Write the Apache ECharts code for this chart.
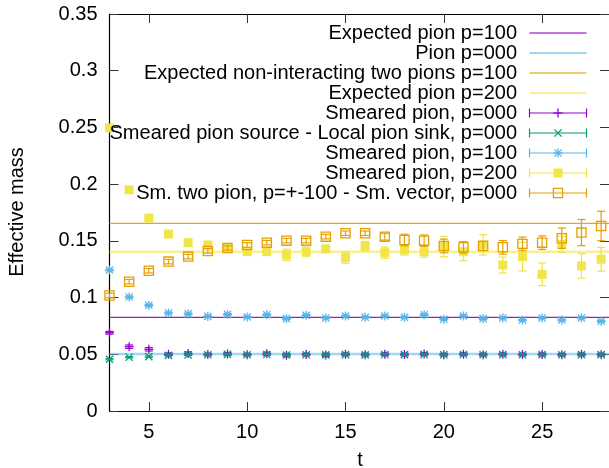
<!DOCTYPE html>
<html>
<head>
<meta charset="utf-8">
<script src="https://cdn.jsdelivr.net/npm/echarts@6/dist/echarts.min.js"></script>
<style>html,body{margin:0;padding:0;background:#fff}#c{width:609px;height:468px}</style>
</head>
<body>
<div id="c"></div>
<script>
const tValues = [3,4,5,6,7,8,9,10,11,12,13,14,15,16,17,18,19,20,21,22,23,24,25,26,27,28];
const xTicks = [5,10,15,20,25];

const expectedNames = ['Expected pion p=100','Pion p=000','Expected non-interacting two pions p=100','Expected pion p=200'];
const expectedValues = [0.0826, 0.0503, 0.1655, 0.1405];

const pointNames = ['Smeared pion, p=000','Smeared pion source - Local pion sink, p=000','Smeared pion, p=100','Smeared pion, p=200','Sm. two pion, p=+-100 - Sm. vector, p=000'];

const smP000 = [0.0690,0.0567,0.0544,0.0500,0.0506,0.0498,0.0503,0.0497,0.0504,0.0492,0.0498,0.0494,0.0500,0.0497,0.0501,0.0498,0.0502,0.0497,0.0501,0.0497,0.0500,0.0498,0.0499,0.0496,0.0499,0.0497];
const smP000Err = [0.0012,0.0015,0.0015,0.0012,0.0015,0.0012,0.0012,0.0012,0.0015,0.0015,0.0012,0.0015,0.0012,0.0012,0.0012,0.0012,0.0012,0.0012,0.0012,0.0012,0.0012,0.0012,0.0012,0.0012,0.0012,0.0012];

const smLocP000 = [0.0456,0.0474,0.0479,0.0490,0.0495,0.0496,0.0499,0.0496,0.0498,0.0494,0.0496,0.0495,0.0497,0.0495,0.0498,0.0497,0.0499,0.0496,0.0498,0.0496,0.0497,0.0496,0.0497,0.0496,0.0497,0.0497];
const smLocP000Err = [0.0005,0.0005,0.0005,0.0005,0.0005,0.0005,0.0005,0.0005,0.0005,0.0005,0.0005,0.0005,0.0005,0.0005,0.0005,0.0005,0.0005,0.0005,0.0005,0.0005,0.0005,0.0005,0.0005,0.0005,0.0005,0.0005];

const smP100 = [0.1243,0.1005,0.0932,0.0864,0.0856,0.0834,0.0852,0.0829,0.0849,0.0814,0.0844,0.0820,0.0838,0.0826,0.0838,0.0826,0.0849,0.0809,0.0838,0.0814,0.0820,0.0802,0.0820,0.0802,0.0820,0.0791];
const smP100Err = [0.0008,0.0008,0.0008,0.0008,0.0008,0.0008,0.0008,0.0008,0.0008,0.0008,0.0008,0.0008,0.0008,0.0008,0.0008,0.0008,0.0008,0.0008,0.0008,0.0008,0.0008,0.0008,0.0008,0.0008,0.0008,0.0008];

const smP200 = [0.2496,0.1950,0.1700,0.1560,0.1484,0.1464,0.1440,0.1405,0.1405,0.1376,0.1405,0.1429,0.1352,0.1455,0.1396,0.1420,0.1405,0.1450,0.1405,0.1464,0.1287,0.1361,0.1205,0.1470,0.1279,0.1338];
const smP200Err = [0.002,0.002,0.002,0.002,0.002,0.003,0.003,0.003,0.003,0.005,0.004,0.003,0.005,0.004,0.005,0.0045,0.005,0.009,0.008,0.009,0.007,0.0126,0.010,0.007,0.0108,0.0105];

const twoPion = [0.1018,0.1140,0.1237,0.1317,0.1361,0.1411,0.1437,0.1464,0.1484,0.1502,0.1502,0.1537,0.1567,0.1567,0.1537,0.1508,0.1502,0.1455,0.1443,0.1455,0.1443,0.1473,0.1484,0.1523,0.1573,0.1631];
const twoPionErr = [0.002,0.002,0.002,0.002,0.002,0.002,0.002,0.002,0.002,0.002,0.002,0.002,0.002,0.002,0.003,0.005,0.005,0.006,0.005,0.004,0.006,0.006,0.006,0.009,0.0115,0.013];

const X_MIN = 3, X_MAX = 28.4;
const COL = {purple:'#9400d3', green:'#009e73', blue:'#56b4e9', orange:'#e69f00', yellow:'#f0e442'};
const lineColors = [COL.purple, COL.blue, COL.orange, COL.yellow];
const pointColors = [COL.purple, COL.green, COL.blue, COL.yellow, COL.orange];
const pointKinds = ['plus','cross','star','fsquare','osquare'];
const pointValues = [smP000, smLocP000, smP100, smP200, twoPion];
const pointErrors = [smP000Err, smLocP000Err, smP100Err, smP200Err, twoPionErr];
const FONT = '"Liberation Sans", Arial, sans-serif';

function marker(kind, cx, cy, color) {
  const r = 4.5, d = 3.6;
  const ls = {stroke: color, lineWidth: 1.3, fill: null};
  const L = (x1,y1,x2,y2) => ({type:'line', shape:{x1,y1,x2,y2}, style:ls});
  if (kind === 'plus') return [L(cx-r,cy,cx+r,cy), L(cx,cy-r,cx,cy+r)];
  if (kind === 'cross') return [L(cx-d,cy-d,cx+d,cy+d), L(cx-d,cy+d,cx+d,cy-d)];
  if (kind === 'star') return [L(cx-r,cy,cx+r,cy), L(cx,cy-r,cx,cy+r), L(cx-d,cy-d,cx+d,cy+d), L(cx-d,cy+d,cx+d,cy-d)];
  if (kind === 'fsquare') return [{type:'rect', shape:{x:cx-4.5,y:cy-4.5,width:9,height:9}, style:{fill:color, opacity:0.95}}];
  return [{type:'rect', shape:{x:cx-4.6,y:cy-4.6,width:9.2,height:9.2}, style:{fill:null, stroke:color, lineWidth:1.3}}];
}

const lineSeries = expectedValues.map((v, i) => ({
  type: 'line', name: expectedNames[i], data: [[X_MIN, v], [X_MAX, v]],
  symbol: 'none', silent: true, z: 1,
  lineStyle: i < 1 || i === 2 ? {color: lineColors[i], width: 1.2, opacity: 0.9}
                              : {color: lineColors[i], width: 2.5, opacity: 0.55}
}));

const pointSeries = pointValues.map((vals, k) => ({
  type: 'custom', name: pointNames[k], clip: false, z: 2 + k,
  data: tValues.map((t, i) => [t, vals[i], pointErrors[k][i]]),
  encode: {x: 0, y: 1},
  renderItem: function (params, api) {
    const x = api.value(0), y = api.value(1), e = api.value(2);
    const p = api.coord([x, y]);
    const top = api.coord([x, y + e])[1], bot = api.coord([x, y - e])[1];
    const c = pointColors[k];
    const es = {stroke: c, lineWidth: 1.2};
    const children = [
      {type:'line', shape:{x1:p[0], y1:top, x2:p[0], y2:bot}, style:es},
      {type:'line', shape:{x1:p[0]-4, y1:top, x2:p[0]+4, y2:top}, style:es},
      {type:'line', shape:{x1:p[0]-4, y1:bot, x2:p[0]+4, y2:bot}, style:es}
    ].concat(marker(pointKinds[k], p[0], p[1], c));
    return {type: 'group', children: children};
  }
}));

// legend (drawn as graphic)
const LEG_TEXT_X = 517, LEG_L = 529.5, LEG_R = 586.5, LEG_Y0 = 33, LEG_DY = 20;
const legendGraphics = [];
const allNames = expectedNames.concat(pointNames);
allNames.forEach((name, i) => {
  const y = LEG_Y0 + i * LEG_DY;
  legendGraphics.push({type:'text', z: 100, style:{text: name, x: LEG_TEXT_X, y: y, textAlign:'right', textVerticalAlign:'middle', font: '20px ' + FONT, fill:'#000'}});
  if (i < 4) {
    legendGraphics.push({type:'line', z: 100, shape:{x1:LEG_L, y1:y, x2:LEG_R, y2:y}, style:{stroke: lineColors[i], lineWidth: 2.2, opacity: 0.55}});
  } else {
    const k = i - 4, c = pointColors[k];
    const es = {stroke: c, lineWidth: 1.2};
    legendGraphics.push({type:'line', z:100, shape:{x1:LEG_L, y1:y, x2:LEG_R, y2:y}, style:es});
    legendGraphics.push({type:'line', z:100, shape:{x1:LEG_L, y1:y-4.5, x2:LEG_L, y2:y+4.5}, style:es});
    legendGraphics.push({type:'line', z:100, shape:{x1:LEG_R, y1:y-4.5, x2:LEG_R, y2:y+4.5}, style:es});
    marker(pointKinds[k], (LEG_L + LEG_R) / 2, y, c).forEach(m => { m.z = 100; legendGraphics.push(m); });
  }
});
legendGraphics.push({type:'text', z:100, style:{text:'Effective mass', x: 0, y: 0, textAlign:'center', textVerticalAlign:'middle', font:'20px ' + FONT, fill:'#000'}, x: 17, y: 212, rotation: Math.PI / 2});
legendGraphics.push({type:'text', z:100, style:{text:'t', x: 360, y: 460, textAlign:'center', textVerticalAlign:'middle', font:'20px ' + FONT, fill:'#000'}});

const tickStyle = {color: '#333', width: 1};
const chart = echarts.init(document.getElementById('c'), null, {renderer: 'canvas'});
chart.setOption({
  animation: false,
  backgroundColor: '#fff',
  grid: {left: 109.5, top: 14, right: 0, bottom: 57, containLabel: false, outerBoundsMode: 'none'},
  xAxis: [
    {type: 'value', min: X_MIN, max: X_MAX, position: 'bottom',
     axisLine: {show: true, onZero: false, lineStyle: {color: '#000', width: 1.2}},
     axisTick: {show: true, inside: true, length: 9, customValues: xTicks, lineStyle: tickStyle},
     axisLabel: {show: true, customValues: xTicks, margin: 11, color: '#000', fontSize: 20, fontFamily: FONT},
     splitLine: {show: false}},
    {type: 'value', min: X_MIN, max: X_MAX, position: 'top',
     axisLine: {show: true, onZero: false, lineStyle: {color: '#000', width: 1.2}},
     axisTick: {show: true, inside: true, length: 9, customValues: xTicks, lineStyle: tickStyle},
     axisLabel: {show: false}, splitLine: {show: false}}
  ],
  yAxis: [
    {type: 'value', min: 0, max: 0.35, interval: 0.05, position: 'left',
     axisLine: {show: true, onZero: false, lineStyle: {color: '#000', width: 1.2}},
     axisTick: {show: true, inside: true, length: 9, lineStyle: tickStyle},
     axisLabel: {show: true, margin: 12, color: '#000', fontSize: 20, fontFamily: FONT,
                 formatter: v => String(parseFloat(v.toFixed(2)))},
     splitLine: {show: false}},
    {type: 'value', min: 0, max: 0.35, interval: 0.05, position: 'right',
     axisLine: {show: false},
     axisTick: {show: true, inside: true, length: 9, lineStyle: tickStyle},
     axisLabel: {show: false}, splitLine: {show: false}}
  ],
  series: lineSeries.concat(pointSeries),
  graphic: legendGraphics
});
</script>
</body>
</html>
